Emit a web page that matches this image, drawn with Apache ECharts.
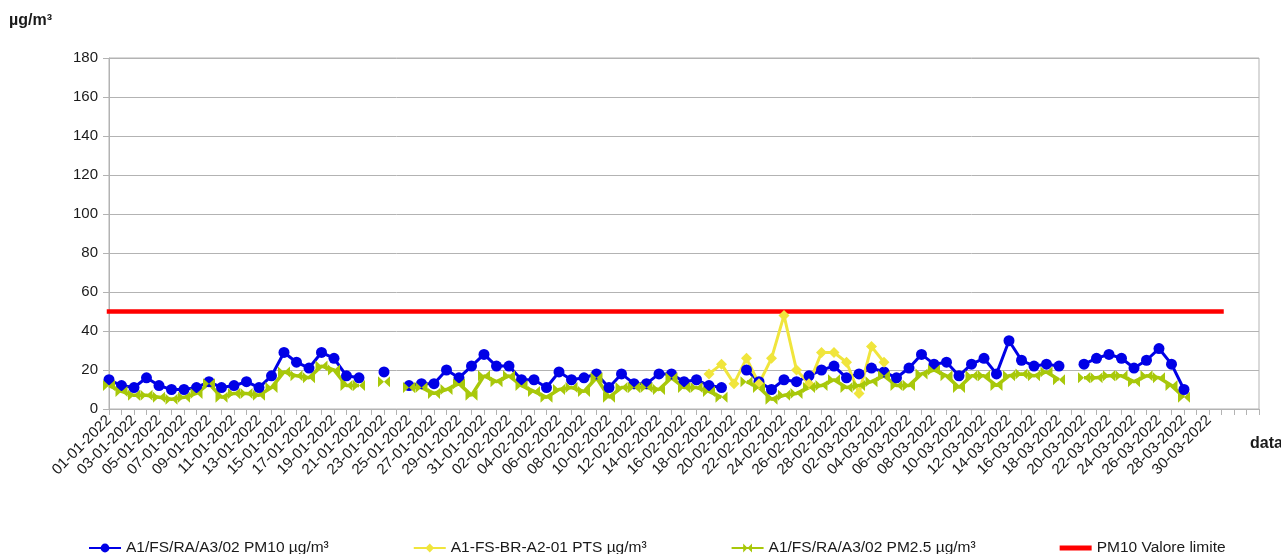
<!DOCTYPE html>
<html lang="it">
  <head>
    <meta charset="UTF-8" />
    <title>PM10 / PTS / PM2.5</title>
    <script src="https://cdn.jsdelivr.net/npm/echarts@6/dist/echarts.min.js"></script>
    <style>
      html, body { margin: 0; padding: 0; background: #fff; }
      #chart { width: 1281px; height: 554px; }
    </style>
  </head>
  <body>
    <div id="chart"></div>
    <script>
      // giorni: 01-01-2022 ... 03-04-2022 (l'asse va un po' oltre l'ultimo dato)
      const days = [
        '01-01-2022','02-01-2022','03-01-2022','04-01-2022','05-01-2022','06-01-2022','07-01-2022','08-01-2022','09-01-2022','10-01-2022',
        '11-01-2022','12-01-2022','13-01-2022','14-01-2022','15-01-2022','16-01-2022','17-01-2022','18-01-2022','19-01-2022','20-01-2022',
        '21-01-2022','22-01-2022','23-01-2022','24-01-2022','25-01-2022','26-01-2022','27-01-2022','28-01-2022','29-01-2022','30-01-2022',
        '31-01-2022',
        '01-02-2022','02-02-2022','03-02-2022','04-02-2022','05-02-2022','06-02-2022','07-02-2022','08-02-2022','09-02-2022','10-02-2022',
        '11-02-2022','12-02-2022','13-02-2022','14-02-2022','15-02-2022','16-02-2022','17-02-2022','18-02-2022','19-02-2022','20-02-2022',
        '21-02-2022','22-02-2022','23-02-2022','24-02-2022','25-02-2022','26-02-2022','27-02-2022','28-02-2022',
        '01-03-2022','02-03-2022','03-03-2022','04-03-2022','05-03-2022','06-03-2022','07-03-2022','08-03-2022','09-03-2022','10-03-2022',
        '11-03-2022','12-03-2022','13-03-2022','14-03-2022','15-03-2022','16-03-2022','17-03-2022','18-03-2022','19-03-2022','20-03-2022',
        '21-03-2022','22-03-2022','23-03-2022','24-03-2022','25-03-2022','26-03-2022','27-03-2022','28-03-2022','29-03-2022','30-03-2022',
        '31-03-2022',
        '01-04-2022','02-04-2022','03-04-2022'
      ];
      const lastLabelIndex = 88; // 30-03-2022

      const pm10 = [
        15, 12, 11, 16, 12, 10, 10, 11, 14, 11,
        12, 14, 11, 17, 29, 24, 21, 29, 26, 17,
        16, null, 19, null, 12, 13, 13, 20, 16, 22,
        28,
        22, 22, 15, 15, 11, 19, 15, 16, 18, 11,
        18, 13, 13, 18, 18, 14, 15, 12, 11, null,
        20, 14, 10, 15, 14, 17, 20, 22,
        16, 18, 21, 19, 16, 21, 28, 23, 24, 17,
        23, 26, 18, 35, 25, 22, 23, 22, null, 23,
        26, 28, 26, 21, 25, 31, 23, 10, null, null,
        null
      ];

      const pts = [
        null, null, null, null, null, null, null, null, null, null,
        null, null, null, null, null, null, null, null, null, null,
        null, null, null, null, null, null, null, null, null, null,
        null,
        null, null, null, null, null, null, null, null, null, null,
        null, null, null, null, null, null, null, 18, 23, 13,
        26, 13, 26, 48, 20, 13, 29, 29,
        24, 8, 32, 24, null, null, null, null, null, null,
        null, null, null, null, null, null, null, null, null, null,
        null, null, null, null, null, null, null, null, null, null,
        null
      ];

      const pm25 = [
        12, 9, 7, 7, 6, 5, 6, 8, 13, 6,
        8, 8, 7, 11, 19, 17, 16, 22, 20, 12,
        12, null, 14, null, 11, 11, 8, 10, 13, 7,
        17,
        14, 17, 12, 9, 6, 10, 11, 9, 16, 6,
        11, 11, 11, 10, 16, 11, 11, 9, 6, null,
        14, 11, 5, 7, 8, 11, 12, 15,
        11, 12, 14, 17, 12, 12, 18, 20, 17, 11,
        17, 17, 12, 17, 18, 17, 19, 15, null, 16,
        16, 17, 17, 14, 17, 16, 12, 6, null, null,
        null
      ];

      // valore limite PM10 = 50, fino al 31-03
      const limitValue = 50;
      const limit = days.map((d, i) => (i <= 89 ? limitValue : null));

      const names = [
        'A1/FS/RA/A3/02 PM10 µg/m³',
        'A1-FS-BR-A2-01 PTS µg/m³',
        'A1/FS/RA/A3/02 PM2.5 µg/m³',
        'PM10 Valore limite'
      ];

      const font = 'Liberation Sans, Arial, sans-serif';
      const gridGray = '#b3b3b3';
      const textColor = '#1a1a1a';
      const bowtie = 'path://M0,0L5,5L0,10ZM10,0L5,5L10,10Z';

      const chart = echarts.init(document.getElementById('chart'));

      const option = {
        animation: false,
        textStyle: { fontFamily: font },
        grid: {
          left: 109,
          right: 22,
          top: 58,
          bottom: 145,
          show: true,
          borderColor: gridGray,
          borderWidth: 1,
          outerBoundsMode: 'none'
        },
        legend: {
          left: 88,
          top: 540,
          padding: 0,
          itemGap: 84,
          itemWidth: 32,
          itemHeight: 11,
          textStyle: { fontSize: 15.5, color: textColor, fontFamily: font },
          data: [
            names[0],
            names[1],
            names[2],
            { name: names[3], icon: 'path://M0,0H32V5H0Z' }
          ]
        },
        xAxis: {
          type: 'category',
          data: days,
          boundaryGap: false,
          name: 'data',
          nameLocation: 'end',
          nameGap: -9,
          nameTextStyle: {
            fontSize: 16,
            fontWeight: 'bold',
            color: textColor,
            align: 'left',
            verticalAlign: 'top',
            padding: [27, 0, 0, 0]
          },
          axisLine: { lineStyle: { color: gridGray } },
          axisTick: { interval: 0, length: 6, lineStyle: { color: gridGray } },
          axisLabel: {
            rotate: 45,
            margin: 9,
            fontSize: 15,
            color: textColor,
            interval: function (index) {
              return index % 2 === 0 && index <= lastLabelIndex;
            }
          },
          splitLine: { show: false }
        },
        yAxis: {
          type: 'value',
          min: 0,
          max: 180,
          interval: 20,
          name: 'µg/m³',
          nameLocation: 'end',
          nameGap: 29,
          nameTextStyle: {
            fontSize: 16,
            fontWeight: 'bold',
            color: textColor,
            align: 'right',
            padding: [0, 57, 0, 0]
          },
          axisLine: { show: true, lineStyle: { color: gridGray } },
          axisTick: { show: true, length: 6, lineStyle: { color: gridGray } },
          axisLabel: { fontSize: 15, color: textColor, margin: 11 },
          splitLine: { lineStyle: { color: gridGray } }
        },
        series: [
          {
            name: names[0],
            type: 'line',
            data: pm10,
            color: '#0000e6',
            symbol: 'circle',
            symbolSize: 11,
            showAllSymbol: true,
            connectNulls: false,
            lineStyle: { width: 3 }
          },
          {
            name: names[1],
            type: 'line',
            data: pts,
            color: '#f0e53c',
            symbol: 'diamond',
            symbolSize: 11,
            showAllSymbol: true,
            connectNulls: false,
            lineStyle: { width: 3 }
          },
          {
            name: names[2],
            type: 'line',
            data: pm25,
            color: '#a8c80a',
            symbol: bowtie,
            symbolSize: [12, 11],
            showAllSymbol: true,
            connectNulls: false,
            lineStyle: { width: 3.5 }
          },
          {
            name: names[3],
            type: 'line',
            data: limit,
            color: '#ff0000',
            symbol: 'none',
            lineStyle: { width: 4.5, cap: 'square' }
          }
        ]
      };

      chart.setOption(option);
    </script>
  </body>
</html>
